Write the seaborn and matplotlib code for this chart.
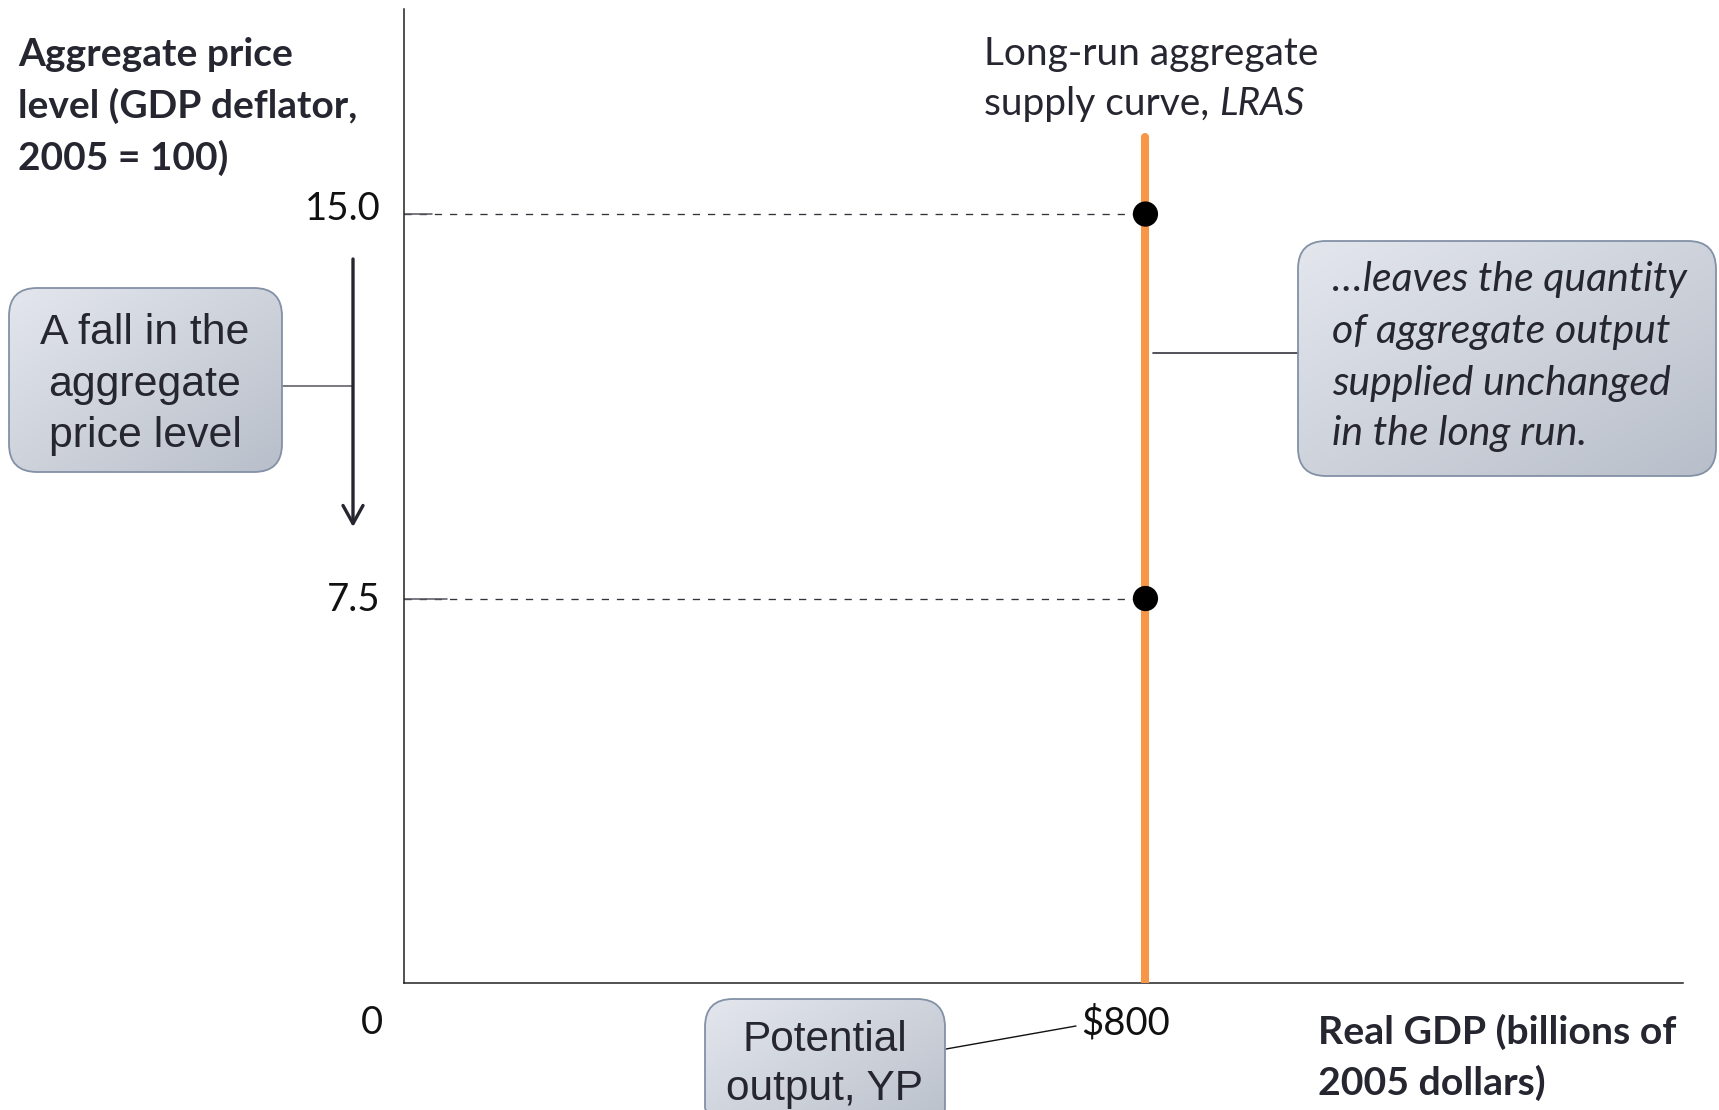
import numpy as np
import matplotlib
matplotlib.use("Agg")
import matplotlib.pyplot as plt
import seaborn as sns
from matplotlib.patches import FancyBboxPatch
from matplotlib.colors import LinearSegmentedColormap
from matplotlib.transforms import ScaledTranslation

# ---------------- data ----------------
price_levels = [15.0, 7.5]
price_labels = ["15.0", "7.5"]
potential_output = 800
x_tick_values = [0, 800]
x_tick_labels = ["0", "$800"]
lras_top = 16.5
x_max = 1380
y_max = 19.0

ylabel_lines = ["Aggregate price", "level (GDP deflator,", "2005 = 100)"]
xlabel_lines = ["Real GDP (billions of", "2005 dollars)"]
lras_lines = ["Long-run aggregate", "supply curve, "]
lras_italic = "LRAS"
left_box_lines = ["A fall in the", "aggregate", "price level"]
right_box_lines = ["\u2026leaves the quantity", "of aggregate output",
                   "supplied unchanged", "in the long run."]
bottom_box_lines = ["Potential", "output, YP"]

# ---------------- style ----------------
sns.set_style("white")
plt.rcParams["font.family"] = ["Lato", "DejaVu Sans"]
TXT = "#262630"
W, H = 1719, 1110
fig = plt.figure(figsize=(W / 100, H / 100), dpi=100)

L, R, T, B = 404, 1683, 9, 983
ax = fig.add_axes([L / W, 1 - B / H, (R - L) / W, (B - T) / H])
ax.set_xlim(0, x_max)
ax.set_ylim(0, y_max)
for s in ["top", "right"]:
    ax.spines[s].set_visible(False)
for s in ["left", "bottom"]:
    ax.spines[s].set_color("#222222")
    ax.spines[s].set_linewidth(1.1)

# LRAS
df_lras = {"x": [potential_output, potential_output], "y": [0, lras_top]}
sns.lineplot(x=df_lras["x"], y=df_lras["y"], estimator=None, sort=False,
             color="#f79646", linewidth=5.8, ax=ax, zorder=3)

# dashed guides
for lvl, lead in zip(price_levels, [30, 46]):
    ax.plot([0, potential_output], [lvl, lvl], color="#33333d", lw=0.95,
            ls=(0, (5.5, 6.0)), zorder=2)
    ax.plot([0, lead], [lvl, lvl], color="#55555f", lw=1.1, zorder=2)

sns.scatterplot(x=[potential_output] * len(price_levels), y=price_levels,
                color="black", s=330, edgecolor="none", ax=ax, zorder=5)

ax.set_yticks(price_levels)
ax.set_yticklabels(price_labels, fontsize=27.5, color="#111111")
ax.set_xticks(x_tick_values)
ax.set_xticklabels(x_tick_labels, fontsize=27.5, color="#111111")
ax.tick_params(axis="both", length=0)
ax.tick_params(axis="y", pad=17)
ax.tick_params(axis="x", pad=16)
offs = [-32, -20]
for lab, dx in zip(ax.get_xticklabels(), offs):
    lab.set_transform(lab.get_transform() + ScaledTranslation(dx / 100, 0, fig.dpi_scale_trans))
for lab, dy in zip(ax.get_yticklabels(), [8.4, 1.8]):
    lab.set_transform(lab.get_transform() + ScaledTranslation(0, dy / 100, fig.dpi_scale_trans))
ax.set_xlabel("")
ax.set_ylabel("")

# ---------------- overlay for annotations (pixel coords) ----------------
ov = fig.add_axes([0, 0, 1, 1], zorder=10)
ov.patch.set_visible(False)
ov.axis("off")

cmap = LinearSegmentedColormap.from_list("box", ["#e3e6ed", "#b9bfca"])


def grad_box(x0, y0, x1, y1, r=28):
    p = FancyBboxPatch((x0, y0), x1 - x0, y1 - y0,
                       boxstyle=f"round,pad=0,rounding_size={r}",
                       facecolor="none", edgecolor="#8391a6", lw=1.3, zorder=3)
    ov.add_patch(p)
    n = 60
    i, j = np.mgrid[0:n, 0:n] / (n - 1)
    g = (i + j) / 2
    im = ov.imshow(g, cmap=cmap, extent=(x0, x1, y1, y0), origin="upper",
                   aspect="auto", zorder=2, interpolation="bilinear")
    im.set_clip_path(p)


def lines(xs, ys, texts, **kw):
    for y, t in zip(ys, texts):
        ov.text(xs, y, t, va="center", color=TXT, **kw)


grad_box(9, 288, 282, 472)
grad_box(1298, 241, 1716, 476)
grad_box(705, 999, 945, 1135)

lines(18, [55, 106, 158], ylabel_lines, fontsize=28, fontweight="bold", ha="left")
lines(1318, [1032, 1083], xlabel_lines, fontsize=28.3, fontweight="bold", ha="left")
lines(984, [54], lras_lines[:1], fontsize=28, ha="left")
t2 = ov.text(984, 104, lras_lines[1], va="center", ha="left", fontsize=28, color=TXT)
ov.annotate(lras_italic, xy=(1, 0), xycoords=t2, va="bottom", ha="left",
            fontsize=28, style="italic", color=TXT)
lines(1332, [279, 331, 383, 433], right_box_lines, fontsize=29.5, style="italic",
      ha="left", zorder=5)
lines(145, [333, 385, 436], left_box_lines, fontsize=30.8, ha="center",
      family="Liberation Sans", zorder=5)
lines(825, [1040, 1089], bottom_box_lines, fontsize=30.5, ha="center",
      family="Liberation Sans", zorder=5)

# connectors
ov.plot([282, 352], [386, 386], color="#55555f", lw=1.1)
ov.plot([1153, 1298], [353, 353], color="#33333d", lw=1.2)
ov.plot([946, 1076], [1049, 1026], color="#111111", lw=1.0)
ov.annotate("", xy=(353, 527), xytext=(353, 259),
            arrowprops=dict(arrowstyle="->,head_length=0.65,head_width=0.36",
                            color="#262630", lw=2.4, mutation_scale=20,
                            shrinkA=0, shrinkB=0))

ov.set_xlim(0, W)
ov.set_ylim(H, 0)

fig.savefig("out.png", dpi=100)
